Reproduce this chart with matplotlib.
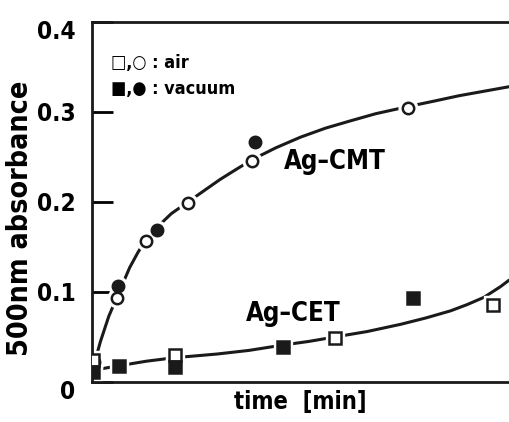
import matplotlib
matplotlib.use('Agg')
import matplotlib.pyplot as plt
import matplotlib.transforms as mtransforms

matplotlib.rcParams['font.family'] = ['DejaVu Sans']
matplotlib.rcParams['font.stretch'] = 'condensed'
matplotlib.rcParams['font.weight'] = 'bold'

# time axis has no tick labels, so arbitrary units 0..100
# Ag-CMT, air (open circles) / vacuum (filled circles)
cmt_air_t = [0.5, 6.0, 12.9, 23.0, 38.4, 75.8]
cmt_air_y = [0.022, 0.093, 0.157, 0.199, 0.245, 0.304]
cmt_vac_t = [6.2, 15.6, 39.1]
cmt_vac_y = [0.107, 0.169, 0.267]
# Ag-CET, air (open squares) / vacuum (filled squares)
cet_air_t = [0.3, 19.9, 58.3, 96.2]
cet_air_y = [0.024, 0.030, 0.049, 0.086]
cet_vac_t = [0.2, 6.5, 19.9, 45.8, 77.0]
cet_vac_y = [0.011, 0.018, 0.017, 0.039, 0.093]

# hand drawn trend curves
cmt_curve_t = [0.2, 2.0, 4.0, 6.5, 9.0, 11.0, 12.9, 15.6, 19.0, 23.0, 27.0, 30.7, 34.5, 38.4,
               44.0, 50.0, 56.0, 61.9, 68.0, 75.8, 82.0, 88.0, 94.0, 100.0]
cmt_curve_y = [0.015, 0.045, 0.073, 0.100, 0.127, 0.144, 0.158, 0.172, 0.187, 0.200, 0.213, 0.225,
               0.236, 0.247, 0.260, 0.272, 0.282, 0.290, 0.298, 0.306, 0.312, 0.318, 0.323, 0.328]
cet_curve_t = [0.2, 6.5, 13.0, 19.9, 25.0, 30.0, 37.6, 45.8, 52.0, 58.3, 66.0, 74.0, 80.0,
               86.0, 90.0, 94.0, 98.0, 100.0]
cet_curve_y = [0.013, 0.018, 0.023, 0.027, 0.029, 0.031, 0.035, 0.041, 0.045, 0.050, 0.056, 0.064,
               0.071, 0.079, 0.086, 0.094, 0.106, 0.113]

y_ticks = [0, 0.1, 0.2, 0.3, 0.4]
y_ticklabels = ['0', '0.1', '0.2', '0.3', '0.4']

fig = plt.figure(figsize=(5.09, 4.22), dpi=100)
ax = fig.add_axes([0.181, 0.095, 0.819, 0.853])

ax.plot(cmt_curve_t, cmt_curve_y, color='#1a1a1a', linewidth=2.2, zorder=1, solid_capstyle='round')
ax.plot(cet_curve_t, cet_curve_y, color='#1a1a1a', linewidth=2.2, zorder=1, solid_capstyle='round')

def draw_points(t, y, marker, filled):
  # white halo leaves the small gap in the curve round each point
  ax.plot(t, y, linestyle='none', marker=marker, markersize=13.5, color='white', zorder=2)
  ax.plot(t, y, linestyle='none', marker=marker, markersize=8.2,
          markerfacecolor='#1a1a1a' if filled else 'white',
          markeredgecolor='#1a1a1a', markeredgewidth=1.8, zorder=3)

draw_points(cmt_air_t, cmt_air_y, 'o', False)
draw_points(cmt_vac_t, cmt_vac_y, 'o', True)
draw_points(cet_air_t, cet_air_y, 's', False)
draw_points(cet_vac_t, cet_vac_y, 's', True)

ax.set_xlim(0, 100)
ax.set_ylim(0, 0.4)
ax.set_xticks([])
ax.set_yticks(y_ticks)
ax.set_yticklabels(y_ticklabels, fontsize=17.5, fontweight='bold')
ax.tick_params(axis='y', direction='in', length=15, width=2, pad=12)
# end labels sit a bit below their ticks in the original
shift = mtransforms.ScaledTranslation(0, -0.08, fig.dpi_scale_trans)
labels = ax.get_yticklabels()
for lab in (labels[0], labels[-1]):
  lab.set_transform(lab.get_transform() + shift)

ax.spines['right'].set_visible(False)
for pos in ['top', 'bottom', 'left']:
  ax.spines[pos].set_linewidth(2)
  ax.spines[pos].set_color('#1a1a1a')

ax.set_ylabel('500nm absorbance', fontsize=20.5, fontweight='bold')
ax.yaxis.set_label_coords(-0.14, 0.455)
ax.set_xlabel('time  [min]', fontsize=17, fontweight='bold', labelpad=6)

ax.text(0.045, 0.885, '\u25a1,\u25cb : air', transform=ax.transAxes, fontsize=13,
        fontweight='bold', va='center')
ax.text(0.045, 0.815, '\u25a0,\u25cf : vacuum', transform=ax.transAxes, fontsize=13,
        fontweight='bold', va='center')

ax.text(0.46, 0.612, 'Ag\u2013CMT', transform=ax.transAxes, fontsize=18.5, fontweight='bold', va='center')
ax.text(0.368, 0.19, 'Ag\u2013CET', transform=ax.transAxes, fontsize=18.5, fontweight='bold', va='center')

plt.savefig('out.png', dpi=100)
